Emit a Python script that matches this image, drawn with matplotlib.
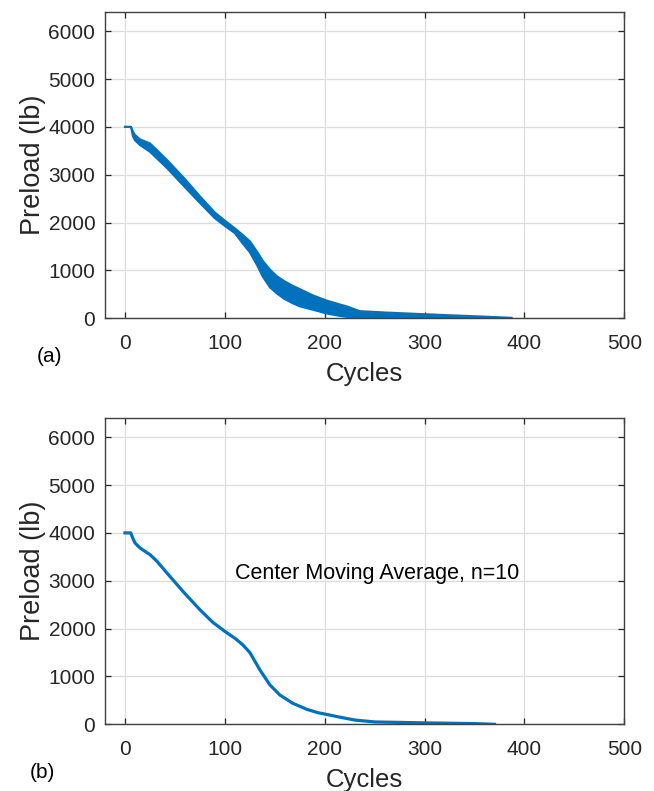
import matplotlib
matplotlib.use("Agg")
import matplotlib.pyplot as plt

plt.rcParams['font.family'] = ['Liberation Sans', 'DejaVu Sans']

# (a) raw preload signal, read as upper / lower envelope of the dense cycling band
cycles_raw = [0, 6, 8, 10, 15, 25, 42, 60, 75, 90, 100, 110, 118, 125, 132,
              138, 145, 152, 160, 168, 175, 188, 202, 215, 222, 235, 262,
              295, 330, 360, 387]
preload_upper = [4000, 4000, 3900, 3830, 3740, 3655, 3310, 2910, 2550, 2210,
                 2040, 1880, 1740, 1610, 1400, 1200, 1020, 880, 770, 680, 610,
                 480, 370, 290, 250, 150, 120, 90, 60, 35, 10]
preload_lower = [4000, 4000, 3800, 3720, 3620, 3480, 3140, 2740, 2410, 2090,
                 1930, 1780, 1560, 1380, 1120, 870, 650, 520, 400, 315, 250,
                 180, 100, 50, 30, 10, 5, 0, 0, 0, 0]

# (b) centre moving average, n=10
cycles_avg = [0, 5.7, 8, 10, 15, 25, 32, 42, 58, 75, 88, 100, 110, 118, 125,
              135, 145, 155, 168, 182, 193, 200, 215, 230, 250, 300, 350, 370]
preload_avg = [4000, 4000, 3880, 3790, 3686, 3546, 3407, 3162, 2778, 2395,
               2130, 1942, 1800, 1660, 1500, 1140, 826, 614, 440, 314, 244,
               215, 150, 90, 50, 30, 15, 0]

xticks = [0, 100, 200, 300, 400, 500]
yticks = [0, 1000, 2000, 3000, 4000, 5000, 6000]

blue = '#0072BD'
edge = '#404040'

fig = plt.figure(figsize=(6.54, 7.91), dpi=100)
ax1 = fig.add_axes([0.1606, 0.5976, 0.794, 0.3872])
ax2 = fig.add_axes([0.1606, 0.0843, 0.794, 0.3872])

ax1.fill_between(cycles_raw, preload_lower, preload_upper, color=blue, lw=0)
ax1.plot(cycles_raw, preload_upper, color=blue, lw=1.5)
ax1.plot(cycles_raw, preload_lower, color=blue, lw=1.5)

ax2.plot(cycles_avg, preload_avg, color=blue, lw=2.3)
ax2.text(110, 3150, 'Center Moving Average, n=10', fontsize=15.5, va='center')

for ax in (ax1, ax2):
    ax.set_xlim(-20, 500)
    ax.set_ylim(0, 6400)
    ax.set_xticks(xticks)
    ax.set_yticks(yticks)
    ax.grid(True, color='#dcdcdc', lw=0.9)
    ax.set_axisbelow(True)
    ax.tick_params(direction='in', top=True, right=True, length=4,
                   labelsize=15, colors='#262626', width=0.9)
    ax.tick_params(axis='x', pad=11)
    ax.tick_params(axis='y', pad=7)
    for s in ax.spines.values():
        s.set_color(edge)
        s.set_linewidth(1.0)
    ax.set_xlabel('Cycles', fontsize=18.5, color='#262626', labelpad=7)
    ax.set_ylabel('Preload (lb)', fontsize=19.5, color='#262626', labelpad=2)

fig.text(50 / 654, 1 - 357 / 791, '(a)', fontsize=15, ha='center', va='center')
fig.text(42 / 654, 1 - 772 / 791, '(b)', fontsize=15, ha='center', va='center')

fig.savefig('out.png', dpi=100)
